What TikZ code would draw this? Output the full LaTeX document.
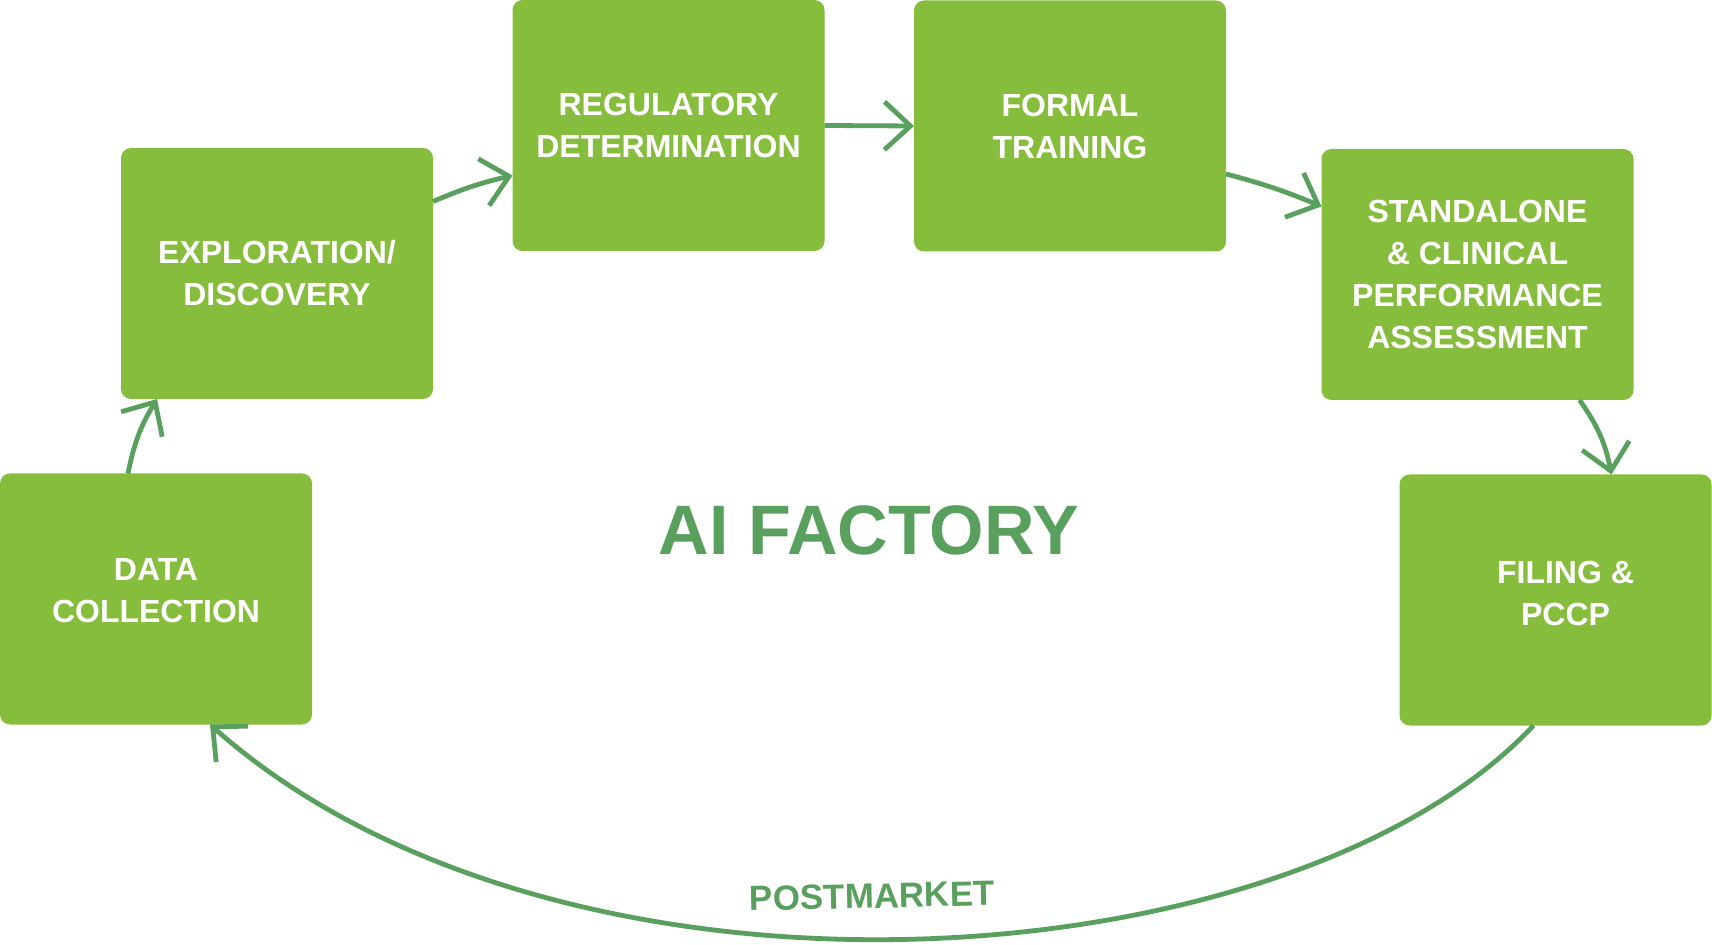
\documentclass[tikz,border=0pt]{standalone}
\usepackage{fontspec}
\setmainfont{Liberation Sans}
\usetikzlibrary{arrows.meta}
\definecolor{boxgreen}{HTML}{87BD3D}
\definecolor{arrowgreen}{HTML}{59A05F}

\begin{document}
\begin{tikzpicture}[x=0.5pt, y=0.5pt,
    stage/.style={fill=boxgreen, rounded corners=5pt, minimum width=156pt, minimum height=125.5pt,
      inner sep=0pt, outer sep=0pt, align=center, text=white, font=\bfseries\fontsize{16}{21}\selectfont},
    flow/.style={draw=arrowgreen, line width=2.4pt, -{Straight Barb[length=13pt,width=24pt]}}]
  \useasboundingbox (0,0) rectangle (1712,-945);
  % stages of the cycle
  \node[stage, text depth=9pt] (Data) at (156,-599) {DATA\\COLLECTION};
  \node[stage] (Explore) at (277,-273.5) {EXPLORATION/\\DISCOVERY};
  \node[stage] (Regul) at (668.5,-125.5) {REGULATORY\\DETERMINATION};
  \node[stage] (Formal) at (1070,-126) {FORMAL\\TRAINING};
  \node[stage] (Stand) at (1477.5,-274.5) {STANDALONE\\\& CLINICAL\\PERFORMANCE\\ASSESSMENT};
  \node[stage, text depth=7pt] (Filing) at (1555.5,-600) {\hspace{10pt}FILING \&\\\hspace{10pt}PCCP};
  \node[font=\bfseries\fontsize{35}{42}\selectfont, text=arrowgreen] (Title) at (869,-530) {AI FACTORY};
  \node[font=\bfseries\fontsize{17.5}{22}\selectfont, text=arrowgreen, rotate=1.2] (Post) at (872,-896) {POSTMARKET};
  % arrows
  \draw[flow] ([xshift=-14pt]Data.north) to[bend left=10] ([xshift=-60pt]Explore.south);
  \draw[flow] ([yshift=36pt]Explore.east) to[bend left=5] ([yshift=-25pt]Regul.west);
  \draw[flow] (Regul.east) -- (Formal.west);
  \draw[flow] ([yshift=-24pt]Formal.east) to[bend left=4] ([yshift=34pt]Stand.west);
  \draw[flow] ([xshift=51pt]Stand.south) to[bend left=12] ([xshift=28pt]Filing.north);
  \draw[flow] ([xshift=-11pt]Filing.south) .. controls (1290,-985) and (560,-1035) .. ([xshift=27pt]Data.south);
\end{tikzpicture}
\end{document}
